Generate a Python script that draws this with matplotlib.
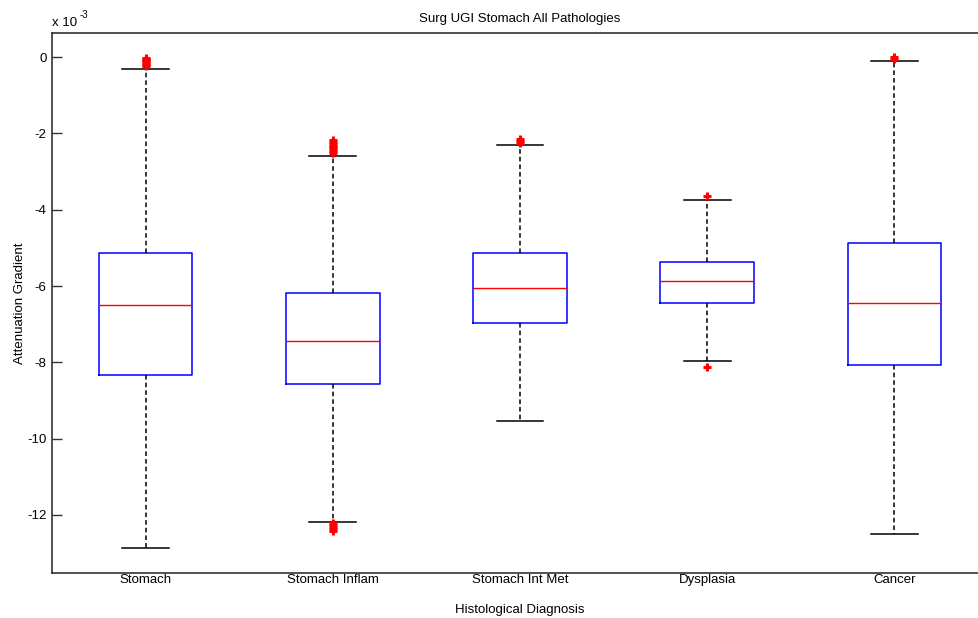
import matplotlib
matplotlib.use("Agg")
import matplotlib.pyplot as plt

plt.rcParams['font.family'] = ['Liberation Sans', 'DejaVu Sans']

# Box statistics per diagnosis, attenuation gradient in units of 1e-3
categories = ["Stomach", "Stomach Inflam", "Stomach Int Met", "Dysplasia", "Cancer"]
whisker_low = [-12.86, -12.18, -9.54, -7.96, -12.50]
q1 = [-8.33, -8.56, -6.97, -6.44, -8.06]
median = [-6.50, -7.45, -6.05, -5.87, -6.45]
q3 = [-5.13, -6.18, -5.13, -5.37, -4.87]
whisker_high = [-0.31, -2.59, -2.31, -3.74, -0.11]
outliers = [
    [-0.02, -0.05, -0.08, -0.11, -0.14, -0.17, -0.20, -0.23],
    [-2.17, -2.22, -2.27, -2.32, -2.37, -2.42, -2.47, -2.52,
     -12.22, -12.27, -12.32, -12.37, -12.41],
    [-2.16, -2.20, -2.24],
    [-3.65, -8.13],
    [-0.01, -0.04],
]

stats = []
for lab, lo, a, m, b, hi, fl in zip(categories, whisker_low, q1, median, q3,
                                     whisker_high, outliers):
    stats.append(dict(label=lab, whislo=lo, q1=a, med=m, q3=b, whishi=hi,
                      fliers=fl))

fig = plt.figure(figsize=(9.79, 6.18), dpi=100)
ax = fig.add_axes([52 / 979, 45 / 618, (988 - 52) / 979, (573 - 33) / 618])

ax.bxp(
    stats,
    widths=0.5,
    capwidths=0.25,
    showfliers=True,
    boxprops=dict(color="#0000ff", linewidth=1.1),
    medianprops=dict(color="#ff0000", linewidth=1.0),
    whiskerprops=dict(color="black", linestyle=(0, (3, 2)), linewidth=1.1),
    capprops=dict(color="black", linewidth=1.1),
    flierprops=dict(marker="+", markeredgecolor="#ff0000", markersize=6,
                    markeredgewidth=2.2, linestyle="none"),
)

ax.set_xlim(0.5, 5.5)
ax.set_ylim(-13.52, 0.63)
ax.set_yticks([0, -2, -4, -6, -8, -10, -12])
ax.set_yticklabels(["0", "-2", "-4", "-6", "-8", "-10", "-12"])
ax.tick_params(axis="y", direction="in", length=7, width=1, left=True,
               right=True, labelsize=9.5, pad=4, color="#333333")
ax.tick_params(axis="x", length=0, labelsize=9.5, pad=1)
for s in ax.spines.values():
    s.set_color("#222222")
    s.set_linewidth(1.1)

# exponent label above the y axis
base = ax.text(0.0, 1.008, "x 10", transform=ax.transAxes, fontsize=9.5,
               ha="left", va="bottom")
ax.annotate("-3", xy=(1.0, 0.75), xycoords=base, xytext=(1.5, 0),
            textcoords="offset points", fontsize=7, ha="left", va="bottom")
ax.set_title("Surg UGI Stomach All Pathologies", fontsize=9.5, pad=8)
ax.set_ylabel("Attenuation Gradient", fontsize=9.5, labelpad=1)
ax.set_xlabel("Histological Diagnosis", fontsize=9.5, labelpad=13)

fig.savefig("out.png", dpi=100)
